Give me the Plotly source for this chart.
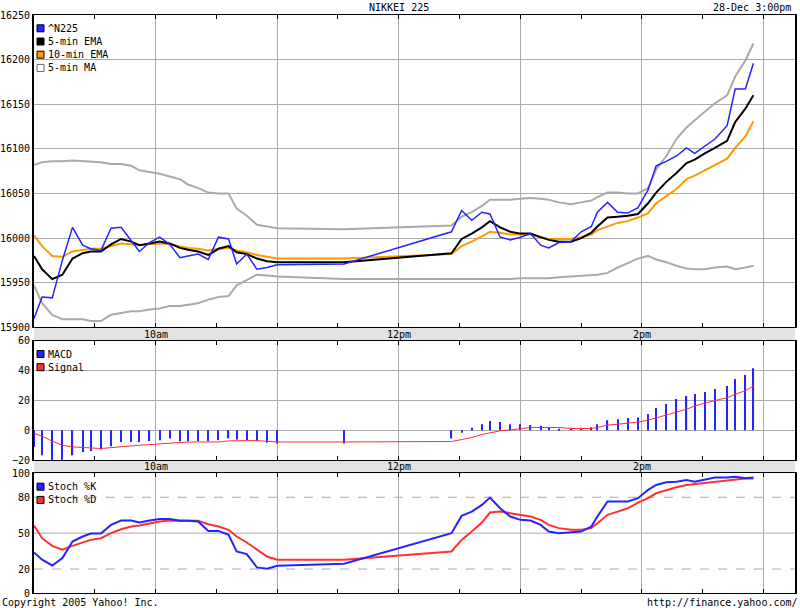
import plotly.graph_objects as go
import pandas as pd

# sample times (Yahoo intraday stamps, 28-Dec-2005)
times = ["09:00", "09:04", "09:09", "09:14", "09:19", "09:24", "09:28", "09:33", "09:38", "09:43",
         "09:48", "09:52", "09:57", "10:02", "10:07", "10:12", "10:16", "10:21", "10:26", "10:31",
         "10:36", "10:40", "10:45", "10:50", "10:55", "11:00",
         "11:33",
         "12:26", "12:31", "12:36", "12:41", "12:45", "12:50", "12:55", "13:00", "13:05", "13:10",
         "13:14", "13:19", "13:25", "13:30", "13:35", "13:38", "13:43", "13:48", "13:53", "13:58",
         "14:03", "14:07", "14:12", "14:17", "14:22", "14:26", "14:31", "14:36", "14:42", "14:46",
         "14:51", "14:55"]

n225 = [15910, 15934, 15933, 15975, 16012, 15992, 15988, 15986, 16011, 16012,
        15997, 15985, 15995, 16001, 15993, 15978, 15980, 15982, 15976, 16001,
        15999, 15971, 15982, 15965, 15967, 15970,
        15971,
        16007, 16031, 16020, 16029, 16027, 16001, 15998, 16001, 16005, 15992,
        15989, 15995, 15996, 16007, 16013, 16029, 16040, 16029, 16028, 16034,
        16054, 16081, 16086, 16092, 16101, 16095, 16103, 16111, 16126, 16167,
        16167, 16196]

ema5 = [15980, 15965, 15954, 15959, 15977, 15983, 15985, 15985, 15993, 15999,
        15996, 15992, 15994, 15996, 15994, 15989, 15987, 15985, 15981, 15988,
        15991, 15984, 15982, 15977, 15974, 15973,
        15973,
        15983, 15999, 16005, 16012, 16019, 16012, 16007, 16005, 16005, 16001,
        15998, 15996, 15996, 16000, 16006, 16013, 16023, 16024, 16025, 16027,
        16039, 16051, 16063, 16073, 16084, 16088, 16095, 16101, 16109, 16130,
        16145, 16160]

ema10 = [16003, 15991, 15980, 15979, 15985, 15987, 15988, 15988, 15991, 15994,
         15993, 15992, 15993, 15994, 15993, 15991, 15989, 15988, 15986, 15988,
         15989, 15986, 15984, 15981, 15979, 15977,
         15977,
         15982, 15991, 15996, 16002, 16007, 16006, 16004, 16004, 16004, 16001,
         15999, 15999, 15999, 16001, 16004, 16009, 16013, 16017, 16019, 16023,
         16028, 16039, 16047, 16055, 16066, 16070, 16076, 16082, 16089, 16101,
         16114, 16131]

ma_upper = [16082, 16085, 16086, 16086, 16087, 16086, 16086, 16085, 16083, 16083,
            16081, 16076, 16074, 16072, 16069, 16066, 16060, 16056, 16051, 16050,
            16050, 16033, 16025, 16015, 16013, 16011,
            16010,
            16014, 16024, 16029, 16036, 16043, 16043, 16043, 16044, 16045, 16044,
            16043, 16040, 16038, 16040, 16042, 16046, 16051, 16051, 16050, 16050,
            16056, 16077, 16092, 16111, 16124, 16132, 16141, 16151, 16160, 16181,
            16199, 16218]

ma_lower = [15947, 15927, 15914, 15909, 15909, 15909, 15907, 15907, 15914, 15916,
            15918, 15918, 15920, 15921, 15924, 15924, 15925, 15927, 15931, 15934,
            15935, 15947, 15953, 15959, 15958, 15957,
            15954,
            15954, 15954, 15954, 15954, 15954, 15954, 15954, 15955, 15955, 15955,
            15955, 15956, 15957, 15958, 15958, 15959, 15961, 15967, 15972, 15977,
            15980, 15976, 15973, 15969, 15966, 15965, 15965, 15967, 15968, 15965,
            15967, 15969]

macd = [-11.2, -16.8, -20.5, -20.5, -16.8, -14.6, -13.9, -13.0, -10.8, -7.9,
        -7.9, -7.9, -7.2, -6.7, -5.6, -7.4, -7.4, -7.4, -7.4, -6.7,
        -5.4, -6.3, -6.7, -7.4, -8.5, -9.0,
        -9.0,
        -5.6, -1.8, 1.6, 4.0, 6.1, 5.4, 4.0, 4.0, 3.4, 2.9,
        1.6, 0.7, 1.6, 1.6, 2.0, 4.0, 6.7, 7.4, 8.1, 8.5,
        10.8, 14.8, 17.5, 20.9, 22.9, 24.2, 25.6, 27.6, 29.6, 34.3,
        37.0, 41.5]

signal = [-2.2, -4.0, -7.4, -10.1, -11.2, -11.7, -12.3, -12.3, -11.7, -11.0,
          -10.6, -10.1, -9.7, -9.2, -8.5, -7.9, -7.9, -7.9, -7.9, -7.9,
          -7.2, -7.0, -7.0, -7.0, -7.2, -7.9,
          -7.9,
          -7.6, -6.3, -4.9, -2.9, -1.8, -0.4, 0.2, 1.1, 1.8, 1.8,
          1.8, 1.8, 1.1, 1.1, 1.1, 1.8, 3.4, 4.0, 4.5, 5.4,
          6.7, 8.1, 10.1, 12.1, 14.1, 16.2, 18.2, 19.8, 21.8, 24.0,
          26.5, 29.6]

stoch_k = [33.9, 27.8, 23.0, 29.2, 43.0, 47.2, 49.7, 49.7, 56.9, 60.5,
           60.5, 58.9, 60.5, 61.9, 61.9, 60.3, 60.3, 59.7, 51.9, 51.9,
           48.6, 34.7, 32.5, 21.4, 20.3, 22.8,
           24.5,
           50.0, 64.4, 68.0, 73.6, 79.7, 70.8, 63.9, 61.1, 60.5, 56.9,
           51.3, 50.0, 50.6, 51.3, 55.5, 63.9, 76.4, 76.4, 76.4, 79.2,
           86.1, 90.3, 92.5, 93.0, 94.4, 93.0, 94.4, 96.4, 96.4, 97.2,
           95.8, 96.4]

stoch_d = [56.4, 45.8, 39.4, 36.1, 39.4, 42.5, 44.4, 45.8, 50.0, 53.3,
           55.5, 56.4, 58.3, 59.7, 60.5, 60.3, 60.3, 60.3, 57.5, 55.5,
           52.8, 47.2, 42.2, 36.1, 30.5, 27.8,
           27.8,
           34.7, 44.4, 51.3, 58.8, 67.2, 68.0, 66.7, 65.3, 63.9, 61.1,
           56.9, 54.2, 52.8, 52.8, 54.2, 58.3, 65.3, 68.0, 70.8, 75.5,
           79.2, 83.3, 86.1, 88.3, 90.3, 91.1, 92.2, 93.0, 94.4, 95.0,
           95.6, 95.6]

time_ticks = ["10:00", "12:00", "14:00"]
time_labels = ["10am", "12pm", "2pm"]
price_legend = ["^N225", "5-min EMA", "10-min EMA", "5-min MA"]
macd_legend = ["MACD", "Signal"]
stoch_legend = ["Stoch %K", "Stoch %D"]

DAY = "2005-12-28 "
x = pd.to_datetime([DAY + t for t in times])

FONT = "DejaVu Sans Mono"
BLUE = "#2424ff"
RED = "#ff3030"
ORANGE = "#ff9900"
GREY = "#aaaaaa"

# pixel frame of the plotting area
L, R, T, B = 34, 795, 15, 593
W, H = R - L, B - T


def fx(p):
    return (p - L) / W


def fy(p):
    return (B - p) / H


fig = go.Figure()

# price panel
fig.add_trace(go.Scatter(x=x, y=ma_upper, mode="lines", line=dict(color=GREY, width=2), xaxis="x", yaxis="y"))
fig.add_trace(go.Scatter(x=x, y=ma_lower, mode="lines", line=dict(color=GREY, width=2), xaxis="x", yaxis="y"))
fig.add_trace(go.Scatter(x=x, y=ema10, mode="lines", line=dict(color=ORANGE, width=2), xaxis="x", yaxis="y"))
fig.add_trace(go.Scatter(x=x, y=ema5, mode="lines", line=dict(color="black", width=2), xaxis="x", yaxis="y"))
fig.add_trace(go.Scatter(x=x, y=n225, mode="lines", line=dict(color=BLUE, width=1.5), xaxis="x", yaxis="y"))

# macd panel
fig.add_trace(go.Bar(x=x, y=macd, width=36000, marker=dict(color=BLUE, line=dict(width=0)),
                     xaxis="x2", yaxis="y2"))
fig.add_trace(go.Scatter(x=x, y=signal, mode="lines", line=dict(color=RED, width=1), xaxis="x2", yaxis="y2"))

# stochastics panel
fig.add_trace(go.Scatter(x=x, y=stoch_d, mode="lines", line=dict(color=RED, width=2), xaxis="x3", yaxis="y3"))
fig.add_trace(go.Scatter(x=x, y=stoch_k, mode="lines", line=dict(color=BLUE, width=2), xaxis="x3", yaxis="y3"))

xrange = [DAY + "09:00", DAY + "15:15:30"]


def xax(anchor):
    return dict(type="date", range=xrange, anchor=anchor, domain=[0, 1], automargin=False,
                showticklabels=False, tick0=DAY + "09:00", dtick=3600000,
                ticks="inside", ticklen=4, tickcolor="black",
                showgrid=True, gridcolor=GREY, gridwidth=1, zeroline=False,
                showline=True, linecolor="black", linewidth=1, mirror="ticks",
                minor=dict(dtick=1800000, ticks="inside", ticklen=4, tickcolor="black", showgrid=False))


def yax(anchor, dom, rng, **kw):
    d = dict(anchor=anchor, domain=dom, range=rng, automargin=False, showgrid=True, gridcolor=GREY,
             gridwidth=1, zeroline=False, showline=True, linecolor="black", linewidth=2, mirror=True,
             ticks="", tickformat="d", tickfont=dict(family=FONT, size=10, color="black"),
             fixedrange=True)
    d.update(kw)
    return d


fig.update_layout(
    width=800, height=608, autosize=False,
    margin=dict(l=L, r=800 - R, t=T, b=608 - B, pad=0),
    paper_bgcolor="white", plot_bgcolor="white",
    showlegend=False,
    font=dict(family=FONT, size=10, color="black"),
    xaxis=xax("y"), xaxis2=xax("y2"), xaxis3=xax("y3"),
    yaxis=yax("x", [fy(327.3), 1], [15900, 16250], tick0=15900, dtick=50),
    yaxis2=yax("x2", [fy(460), fy(340.7)], [-20, 60], tick0=-20, dtick=20),
    yaxis3=yax("x3", [0, fy(473.3)], [0, 100], tickvals=[0, 20, 50, 80, 100], showgrid=False),
)

shapes = []
# grey time strips between panels
for top, bot in [(327.3, 340.7), (460, 473.3)]:
    shapes.append(dict(type="rect", xref="paper", yref="paper", x0=0, x1=1, y0=fy(bot), y1=fy(top),
                       fillcolor="#e2e2e2", line=dict(width=0), layer="below"))
# stochastics reference lines
for lvl, dash in [(20, "dash"), (50, "solid"), (80, "dash")]:
    shapes.append(dict(type="line", xref="paper", yref="y3", x0=0, x1=1, y0=lvl, y1=lvl,
                       line=dict(color=GREY, width=1, dash=dash), layer="below"))

annotations = []


def legend(labels, colors, row_y):
    for i, (lab, col) in enumerate(zip(labels, colors)):
        yc = row_y + i * 13.2
        fill, edge = (col, "black") if col != "white" else ("white", "#666666")
        shapes.append(dict(type="rect", xref="paper", yref="paper",
                           x0=fx(37), x1=fx(44), y0=fy(yc + 3.5), y1=fy(yc - 3.5),
                           fillcolor=fill, line=dict(color=edge, width=1)))
        annotations.append(dict(text=lab, xref="paper", yref="paper", x=fx(45.5), y=fy(yc),
                                xanchor="left", yanchor="middle", showarrow=False,
                                font=dict(family=FONT, size=10, color="black")))


legend(price_legend, [BLUE, "black", ORANGE, "white"], 28.3)
legend(macd_legend, [BLUE, RED], 354)
legend(stoch_legend, [BLUE, RED], 486.7)

# time labels inside the strips
for yc in [334, 466.7]:
    for t, lab in zip(time_ticks, time_labels):
        annotations.append(dict(text=lab, xref="x", yref="paper", x=DAY + t, y=fy(yc),
                                xanchor="center", yanchor="middle", showarrow=False,
                                font=dict(family=FONT, size=10, color="black")))

annotations += [
    dict(text="NIKKEI 225", xref="paper", yref="paper", x=fx(399), y=fy(7),
         xanchor="center", yanchor="middle", showarrow=False),
    dict(text="28-Dec 3:00pm", xref="paper", yref="paper", x=fx(793), y=fy(7),
         xanchor="right", yanchor="middle", showarrow=False),
    dict(text="Copyright 2005 Yahoo! Inc.", xref="paper", yref="paper", x=fx(0), y=fy(602.5),
         xanchor="left", yanchor="middle", showarrow=False),
    dict(text="http://finance.yahoo.com/", xref="paper", yref="paper", x=fx(800), y=fy(602.5),
         xanchor="right", yanchor="middle", showarrow=False),
]

fig.update_layout(shapes=shapes, annotations=annotations)

# the page would otherwise add a default 8px body margin
fig.write_html("out.html", config={"displayModeBar": False},
               post_script="document.body.style.margin='0';")
